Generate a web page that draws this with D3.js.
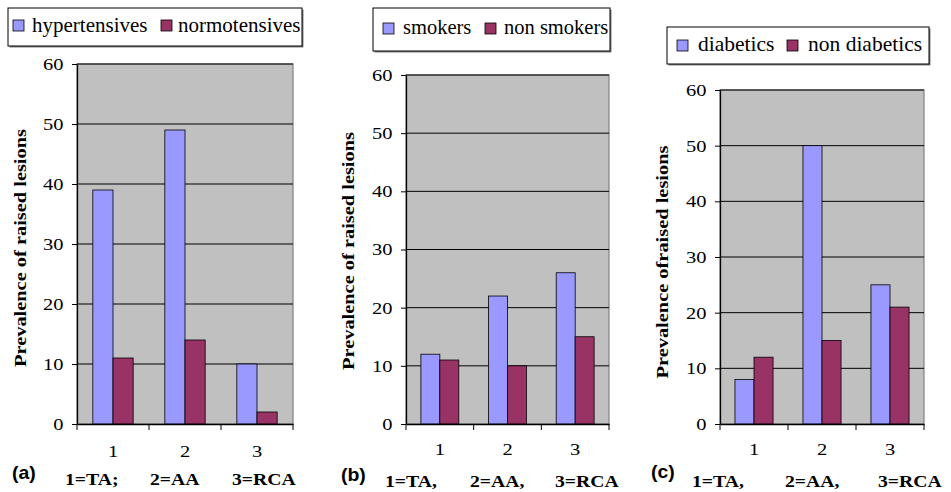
<!DOCTYPE html>
<html lang="en">
<head>
    <meta charset="UTF-8">
    <title>Prevalence of raised lesions</title>
    <script src="https://d3js.org/d3.v7.min.js"></script>
    <style>
        body { margin: 0; background: #fff; }
        svg { display: block; }
    </style>
</head>
<body>
    <svg width="951" height="492"></svg>
    <script>
    // data
    const categories = ["1", "2", "3"];
    const yTicks = [0, 10, 20, 30, 40, 50, 60];

    const hypertensives = [39, 49, 10];
    const normotensives = [11, 14, 2];
    const smokers = [12, 22, 26];
    const nonSmokers = [11, 10, 15];
    const diabetics = [8, 50, 25];
    const nonDiabetics = [12, 15, 21];

    const legendA = ["hypertensives", "normotensives"];
    const legendB = ["smokers", "non smokers"];
    const legendC = ["diabetics", "non diabetics"];

    const titleAB = "Prevalence of raised lesions";
    const titleC = "Prevalence ofraised lesions";
    const footA = ["1=TA;", "2=AA", "3=RCA"];
    const footBC = ["1=TA,", "2=AA,", "3=RCA"];

    const colors = ["#9999FF", "#993366"];
    const SERIF = "'Liberation Serif', 'Times New Roman', serif";

    // layout of each panel
    const panels = [
        { tag: "(a)", series: [hypertensives, normotensives], names: legendA, title: titleAB, foot: footA,
          x0: 77, x1: 293, top: 64, bot: 424, tickY: 457,
          legend: { x: 8, y: 8, w: 294, h: 38, sw: [13, 161], tx: [32, 178], sy: 20, ty: 32, fs: 21 },
          titleX: 20, titleY: 248,
          tagPos: [12, 479], footX: [65, 150, 232], footY: 485 },
        { tag: "(b)", series: [smokers, nonSmokers], names: legendB, title: titleAB, foot: footBC,
          x0: 406, x1: 609, top: 75, bot: 424, tickY: 455,
          legend: { x: 373, y: 8, w: 237, h: 43, sw: [383, 485], tx: [403, 504], sy: 23, ty: 34, fs: 20.5 },
          titleX: 348, titleY: 251,
          tagPos: [341, 481], footX: [385, 470, 555], footY: 487 },
        { tag: "(c)", series: [diabetics, nonDiabetics], names: legendC, title: titleC, foot: footBC,
          x0: 720, x1: 924, top: 90, bot: 424, tickY: 455,
          legend: { x: 667, y: 27, w: 262, h: 37, sw: [677, 787], tx: [698, 808], sy: 40, ty: 51, fs: 21.5 },
          titleX: 662, titleY: 262,
          tagPos: [651, 478], footX: [692, 785, 878], footY: 487 }
    ];

    const svg = d3.select("svg");

    // text drawn with a horizontal stretch, like the wide type of the original
    function stretchedText(g, str, x, y, size, k, bold) {
        return g.append("text")
            .attr("transform", `translate(${x},${y}) scale(${k},1)`)
            .style("font-family", SERIF)
            .style("font-weight", bold ? "bold" : "normal")
            .style("font-size", size + "px")
            .attr("fill", "#000")
            .text(str);
    }

    panels.forEach(p => {
        const g = svg.append("g");

        const x = d3.scaleBand().domain(categories).range([p.x0, p.x1]);
        const y = d3.scaleLinear().domain([0, 60]).range([p.bot, p.top]);
        const bw = x.bandwidth();
        const groupW = bw * 0.56;
        const sub = d3.scaleBand().domain([0, 1]).range([(bw - groupW) / 2, (bw + groupW) / 2]);

        // plot area
        g.append("rect")
            .attr("x", p.x0).attr("y", p.top)
            .attr("width", p.x1 - p.x0).attr("height", p.bot - p.top)
            .attr("fill", "#C0C0C0")
            .attr("stroke", "#808080").attr("stroke-width", 1.2);

        // gridlines
        g.append("g").selectAll("line")
            .data(yTicks.filter(t => t > 0))
            .enter().append("line")
            .attr("x1", p.x0).attr("x2", p.x1)
            .attr("y1", d => y(d)).attr("y2", d => y(d))
            .attr("stroke", "#000").attr("stroke-width", 1);

        // bars
        p.series.forEach((vals, si) => {
            g.append("g").selectAll("rect")
                .data(vals)
                .enter().append("rect")
                .attr("x", (d, i) => x(categories[i]) + sub(si))
                .attr("y", d => y(d))
                .attr("width", sub.bandwidth())
                .attr("height", d => y(0) - y(d))
                .attr("fill", colors[si])
                .attr("stroke", "#000").attr("stroke-width", 0.8);
        });

        // y axis
        const yAxis = g.append("g")
            .attr("transform", `translate(${p.x0},0)`)
            .call(d3.axisLeft(y).tickValues(yTicks).tickSize(5).tickSizeOuter(0));
        yAxis.attr("font-family", null).attr("font-size", null);
        yAxis.select(".domain").attr("stroke", "#000").attr("stroke-width", 1.3);
        yAxis.selectAll(".tick line").attr("stroke", "#000");
        yAxis.selectAll(".tick text")
            .attr("x", null).attr("dy", "0.34em")
            .attr("transform", "translate(-13.5,0) scale(1.28,1)")
            .style("font-family", SERIF)
            .style("font-size", "16px");

        // x axis: line, ticks at band edges, labels at band centres
        const xAxis = g.append("g")
            .attr("transform", `translate(0,${p.bot})`)
            .call(d3.axisBottom(x).tickSize(0).tickPadding(0));
        xAxis.attr("font-family", null).attr("font-size", null);
        xAxis.select(".domain").attr("stroke", "#000").attr("stroke-width", 1.3);
        xAxis.selectAll(".tick text")
            .attr("y", null).attr("dy", null)
            .attr("transform", `translate(0,${p.tickY - p.bot}) scale(1.28,1)`)
            .style("font-family", SERIF)
            .style("font-size", "16px");
        const edges = [p.x0].concat(categories.map(c => x(c) + bw));
        g.append("g").selectAll("line")
            .data(edges)
            .enter().append("line")
            .attr("x1", d => d).attr("x2", d => d)
            .attr("y1", p.bot).attr("y2", p.bot + 6)
            .attr("stroke", "#000");

        // y title
        g.append("text")
            .attr("transform", `translate(${p.titleX},${p.titleY}) rotate(-90) scale(1.2,1)`)
            .attr("text-anchor", "middle")
            .attr("dy", "0.35em")
            .style("font-family", SERIF)
            .style("font-weight", "bold")
            .style("font-size", "17px")
            .text(p.title);

        // legend
        const L = p.legend;
        g.append("rect")
            .attr("x", L.x + 1.5).attr("y", L.y + 1.5)
            .attr("width", L.w).attr("height", L.h)
            .attr("fill", "#808080");
        g.append("rect")
            .attr("x", L.x).attr("y", L.y)
            .attr("width", L.w).attr("height", L.h)
            .attr("fill", "#fff").attr("stroke", "#000").attr("stroke-width", 1);
        p.names.forEach((n, i) => {
            g.append("rect")
                .attr("x", L.sw[i]).attr("y", L.sy)
                .attr("width", 11).attr("height", 11)
                .attr("fill", colors[i]).attr("stroke", "#000").attr("stroke-width", 0.8);
            stretchedText(g, n, L.tx[i], L.ty, L.fs, 1, false);
        });

        // panel tag and category key
        g.append("text")
            .attr("transform", `translate(${p.tagPos[0]},${p.tagPos[1]}) scale(1.08,1)`)
            .style("font-family", "'Liberation Sans', Arial, sans-serif")
            .style("font-weight", "bold")
            .style("font-size", "18px")
            .text(p.tag);
        p.foot.forEach((f, i) => {
            stretchedText(g, f, p.footX[i], p.footY, 16, 1.23, true);
        });
    });
    </script>
</body>
</html>
